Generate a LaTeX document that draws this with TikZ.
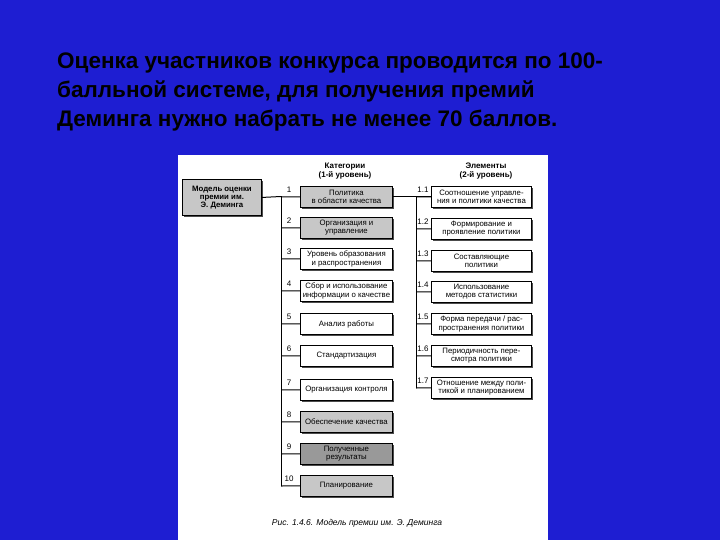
\documentclass[tikz,border=0pt]{standalone}
\usepackage{fontspec}
\setmainfont{Liberation Sans}
\usetikzlibrary{shadows}
\begin{document}
\begin{tikzpicture}[x=1pt,y=-1pt,
  bx/.style={draw=black,line width=0.9pt,fill=white,minimum width=92pt,minimum height=21pt,inner sep=0.5pt,align=center,font=\fontsize{7.8}{8.2}\selectfont,anchor=north west,drop shadow={shadow xshift=2pt,shadow yshift=-2pt,fill=black!70,opacity=1}},
  gb/.style={bx,fill=black!22},
  db/.style={bx,fill=black!40},
  rb/.style={bx,minimum width=100pt},
  num/.style={font=\fontsize{8}{9}\selectfont,inner sep=0pt},
  ln/.style={line width=1pt}]
\useasboundingbox (0,0) rectangle (720,540);
\fill[fill={rgb,255:red,30;green,30;blue,210}] (0,0) rectangle (720,540);
\node[anchor=west,font=\bfseries\fontsize{22.5}{29}\selectfont,align=left,inner sep=0pt] (title) at (57,92) {Оценка участников конкурса проводится по 100-\\балльной системе, для получения премий\\Деминга нужно набрать не менее 70 баллов.};
\fill[white] (178,155) rectangle (548,540);
\node[font=\bfseries\fontsize{8}{8.5}\selectfont,align=center] (h1) at (345,171) {Категории\\(1-й уровень)};
\node[font=\bfseries\fontsize{8}{8.5}\selectfont,align=center] (h2) at (486,171) {Элементы\\(2-й уровень)};
\node[gb,minimum width=79pt,minimum height=36pt,font=\bfseries\fontsize{7.8}{8.2}\selectfont] (root) at (182,179) {Модель оценки\\премии им.\\Э. Деминга};
\foreach \i/\y/\t/\s in {1/186/{Политика\\в области качества}/gb,2/217/{Организация и\\управление}/gb,3/248/{Уровень образования\\и распространения}/bx,4/280/{Сбор и использование\\информации о качестве}/bx,5/313/{Анализ работы}/bx,6/345/{Стандартизация}/bx,7/379/{Организация контроля}/bx,8/411/{Обеспечение качества}/gb,9/443/{Полученные\\результаты}/db,10/475/{Планирование}/gb}{
  \node[\s] (c\i) at (300,\y) {\t};
  \draw[ln] (281,\y+11) -- (c\i.west);
  \node[num] (n\i) at (289,\y+4) {\i};
}
\draw[ln] (root.east) -- (281,196.5);
\draw[ln] (281,196.5) -- (281,486);
\foreach \i/\y/\t in {1/186/{Соотношение управле-\\ния и политики качества},2/218/{Формирование и\\проявление политики},3/250/{Составляющие\\политики},4/281/{Использование\\методов статистики},5/313/{Форма передачи / рас-\\пространения политики},6/345/{Периодичность пере-\\смотра политики},7/377/{Отношение между поли-\\тикой и планированием}}{
  \node[rb] (e\i) at (431,\y) {\t};
  \draw[ln] (416,\y+11) -- (e\i.west);
  \node[num] (m\i) at (423,\y+4) {1.\i};
}
\draw[ln] (c1.east) -- (e1.west);
\draw[ln] (416,197) -- (416,388);
\node[font=\itshape\fontsize{8.5}{9}\selectfont] (cap) at (357,523) {Рис. 1.4.6. Модель премии им. Э. Деминга};
\end{tikzpicture}
\end{document}
